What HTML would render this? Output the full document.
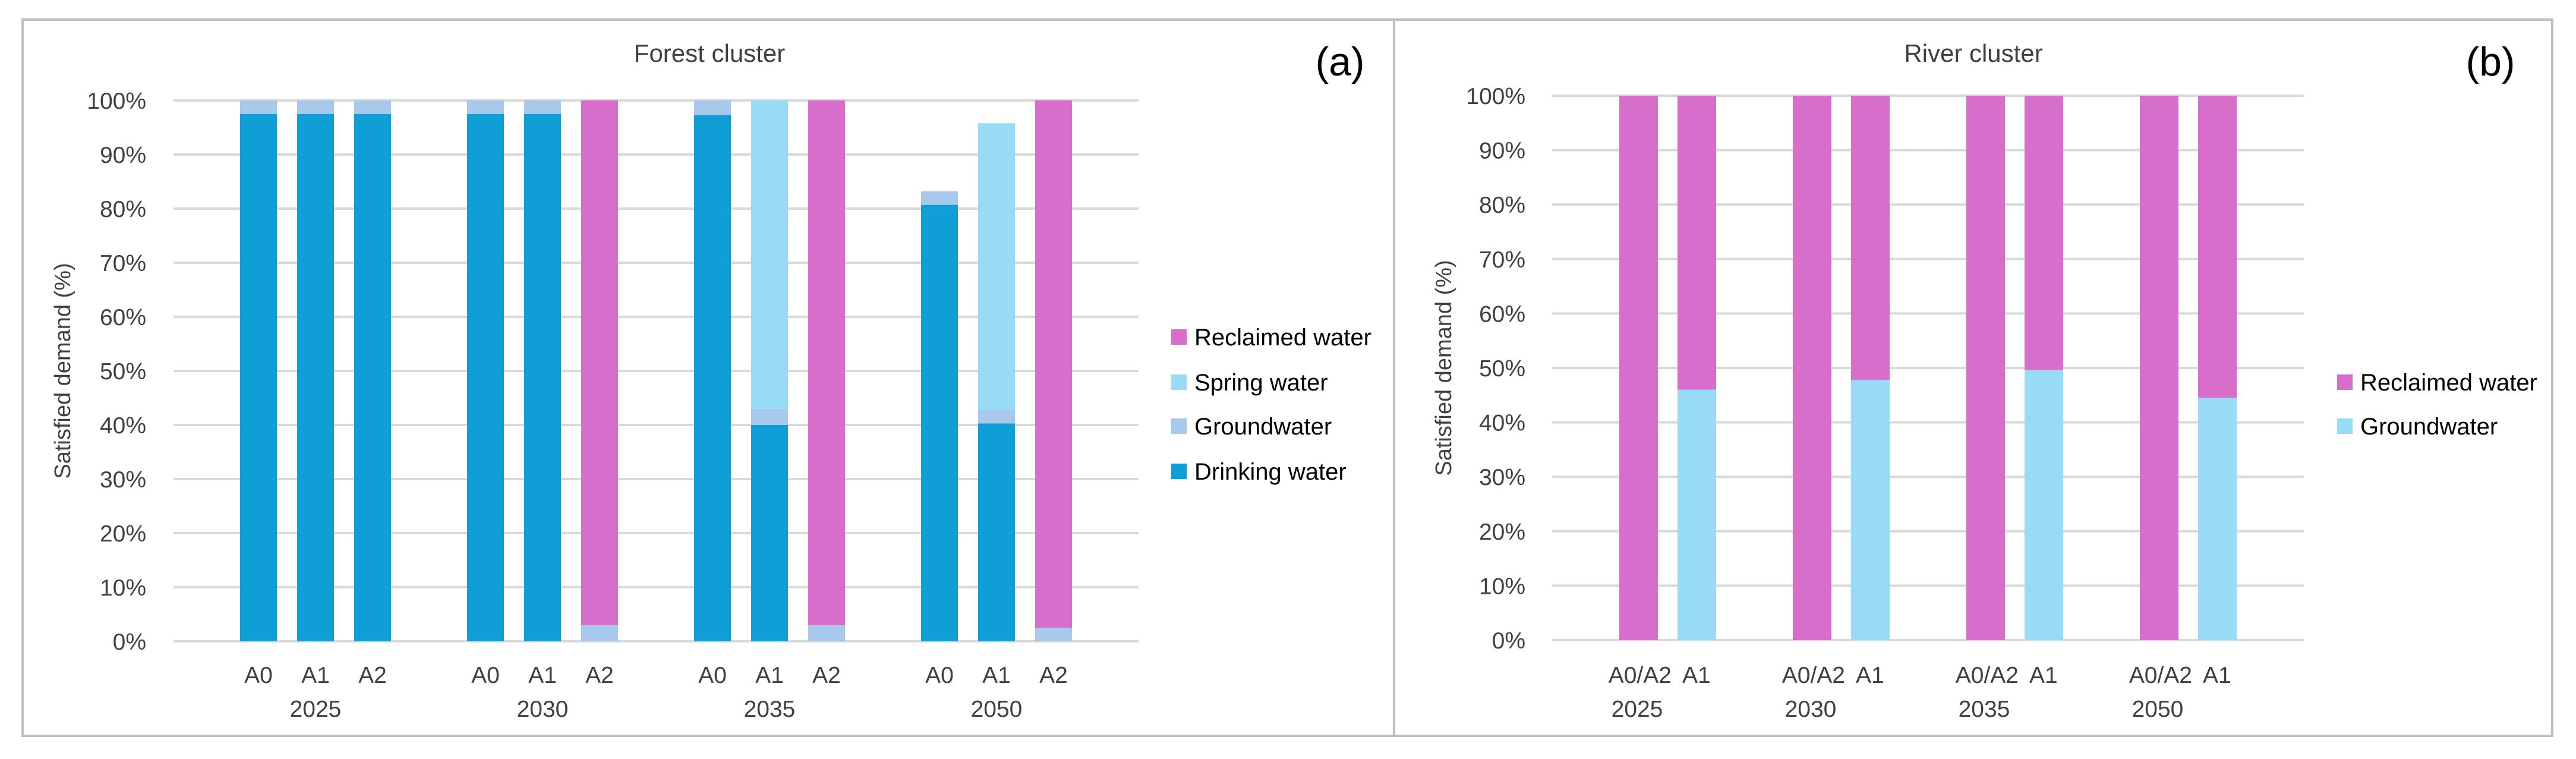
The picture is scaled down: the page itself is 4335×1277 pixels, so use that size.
<!DOCTYPE html>
<html><head><meta charset="utf-8">
<style>
html,body{margin:0;padding:0;background:#fff;}
svg{display:block;font-family:"Liberation Sans Narrow","Liberation Sans",sans-serif;}
</style></head>
<body>
<svg id="chart" width="4335" height="1277" viewBox="0 0 4335 1277" xmlns="http://www.w3.org/2000/svg">
<rect x="0" y="0" width="4335" height="1277" fill="#fff"/>
<rect x="38" y="33" width="4257" height="1205" fill="none" stroke="#bfbfbf" stroke-width="4"/>
<line x1="2346" y1="33" x2="2346" y2="1238" stroke="#bfbfbf" stroke-width="4"/>
<g id="left"></g>
<g id="right"></g>
</svg>
<script>
// ---- Forest cluster data (percent) ----
const forestYears = ["2025","2030","2035","2050"];
const forestScen = ["A0","A1","A2"];
const forestDrinking = [97.5,97.5,97.5, 97.5,97.5,0, 97.3,40,0, 80.7,40.3,0];
const forestGround   = [2.5,2.5,2.5, 2.5,2.5,3, 2.7,3,3, 2.5,2.5,2.5];
const forestSpring   = [0,0,0, 0,0,0, 0,57,0, 0,53,0];
const forestReclaimed= [0,0,0, 0,0,97, 0,0,97, 0,0,97.5];
// ---- River cluster data ----
const riverYears = ["2025","2030","2035","2050"];
const riverScen = ["A0/A2","A1"];
const riverGround   = [0,46, 0,47.8, 0,49.6, 0,44.5];
const riverReclaimed= [100,54, 100,52.2, 100,50.4, 100,55.5];
const yTicks = [0,10,20,30,40,50,60,70,80,90,100];

const NS="http://www.w3.org/2000/svg";
function el(parent,tag,attrs,text){const e=document.createElementNS(NS,tag);for(const k in attrs)e.setAttribute(k,attrs[k]);if(text!==undefined)e.textContent=text;parent.appendChild(e);return e;}
const C={drink:"#0f9ed5",ground:"#a6c9ec",spring:"#97dbf7",recl:"#d86ecc"};

function panel(g,o){
  const y=v=>o.y0-(v/100)*(o.y0-o.y100);
  yTicks.forEach(t=>{
    const l=el(g,"line",{x1:o.gx0,x2:o.gx1,y1:y(t),y2:y(t),stroke:"#d9d9d9","stroke-width":4});
    
    
    const tx=el(g,"text",{x:o.tickX,y:y(t)+14,"text-anchor":"end","font-size":39,fill:"#404040"},t+"%");
    
    
  });
  const yl=el(g,"text",{x:0,y:0,transform:`translate(${o.ylX},${(o.y0+o.y100)/2}) rotate(-90)`,"text-anchor":"middle","font-size":38,fill:"#404040","font-family":"Liberation Sans, sans-serif"},"Satisfied demand (%)");
  
  
  const ti=el(g,"text",{x:o.titleX,y:104,"text-anchor":"middle","font-size":42,fill:"#404040"},o.title);
  
  
  const pl=el(g,"text",{x:o.tagX,y:127,"text-anchor":"middle","font-size":68,fill:"#000","font-family":"Liberation Sans, sans-serif"},o.tag);
  
  
  const n=o.scen.length;
  o.years.forEach((yr,gi)=>{
    for(let si=0;si<n;si++){
      const idx=gi*n+si, bx=o.bx0+gi*o.gp+si*o.bp;
      let acc=0;
      o.series.forEach(s=>{
        const v=s.vals[idx]; if(v<=0)return;
        const r=el(g,"rect",{x:bx,y:y(acc+v),width:o.bw,height:y(acc)-y(acc+v),fill:s.color});
        
        
        acc+=v;
      });
      let lx=bx+o.bw/2, anchor="middle";
      if(o.labelPos){lx=bx+o.labelPos[si].dx; anchor=o.labelPos[si].anchor;}
      const lt=el(g,"text",{x:lx,y:1149,"text-anchor":anchor,"font-size":39,fill:"#404040"},o.scen[si]);
      
      
    }
    const cx=o.bx0+gi*o.gp+o.yearDx;
    const yt=el(g,"text",{x:cx,y:1206,"text-anchor":"middle","font-size":39,fill:"#404040"},yr);
    
    
  });
  o.legend.forEach((s,i)=>{
    const ly=o.legY[i];
    const r=el(g,"rect",{x:o.legX,y:ly-13,width:26,height:26,fill:s.color});
    
    
    const t=el(g,"text",{x:o.legX+39,y:ly+14,"font-size":40,fill:"#000"},s.label);
    
    
  });
}

panel(document.getElementById("left"),{
  y0:1079,y100:169,gx0:292,gx1:1916,tickX:246,ylX:118,titleX:1194,tagX:2255,title:"Forest cluster",tag:"(a)",
  years:forestYears,scen:forestScen,bx0:404,gp:382,bp:96,bw:62,yearDx:127,
  series:[{key:"drinking",vals:forestDrinking,color:C.drink},{key:"groundwater",vals:forestGround,color:C.ground},{key:"spring",vals:forestSpring,color:C.spring},{key:"reclaimed",vals:forestReclaimed,color:C.recl}],
  legend:[{label:"Reclaimed water",color:C.recl},{label:"Spring water",color:C.spring},{label:"Groundwater",color:C.ground},{label:"Drinking water",color:C.drink}],
  legX:1971,legY:[567,643,717,793]
});
panel(document.getElementById("right"),{
  y0:1077,y100:161,gx0:2612,gx1:3877,tickX:2567,ylX:2442,titleX:3321,tagX:4191,title:"River cluster",tag:"(b)",
  years:riverYears,scen:riverScen,bx0:2725,gp:292,bp:98,bw:65,yearDx:30,
  labelPos:[{dx:88,anchor:"end"},{dx:8,anchor:"start"}],
  series:[{key:"groundwater",vals:riverGround,color:C.spring},{key:"reclaimed",vals:riverReclaimed,color:C.recl}],
  legend:[{label:"Reclaimed water",color:C.recl},{label:"Groundwater",color:C.spring}],
  legX:3933,legY:[643,717]
});
</script>
</body></html>
